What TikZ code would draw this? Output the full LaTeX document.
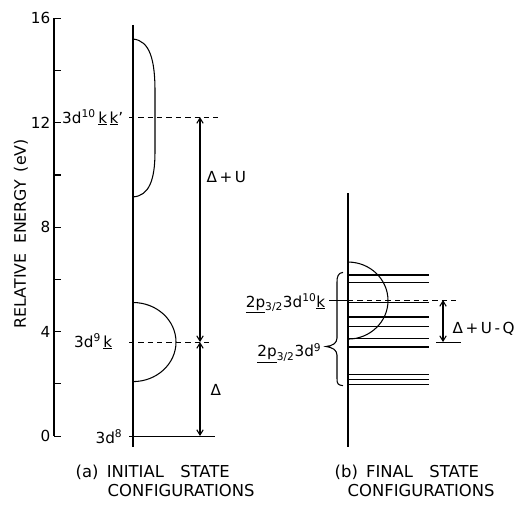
\documentclass[tikz,border=0pt]{standalone}
\usepackage{fontspec}
\setmainfont{DejaVu Sans}
\usetikzlibrary{arrows.meta}

\tikzset{
  lbl/.style={font=\fontsize{13}{15}\selectfont, inner sep=1pt},
  captxt/.style={font=\fontsize{14}{16}\selectfont, inner sep=1pt},
  dashline/.style={dash pattern=on 4.5pt off 3.5pt},
  dimarrow/.style={{Straight Barb[length=4.5pt,width=5.5pt]}-{Straight Barb[length=4.5pt,width=5.5pt]}},
}

\begin{document}
\begin{tikzpicture}[x=0.03cm, y=0.783cm, line width=0.9pt]
    \useasboundingbox (0,-2.835) rectangle (517,16.705);
    % energy axis
    \draw (54,0) coordinate (ax0) -- (54,16) coordinate (ax16);
    \foreach \e in {0,2,...,16}
        \draw (ax0 |- 0,\e) -- ++(7,0);
    \foreach \e in {0,4,8,12,16}
        \node[lbl, anchor=east] (t\e) at (52,\e) {\e};
    \node[captxt, rotate=90, font=\fontsize{13.5}{16}\selectfont] (ylab) at (21,7.75) {RELATIVE\hspace{.6em}ENERGY\hspace{.5em}(eV)};

    % (a) initial state configurations
    \coordinate (aTop) at (133,15.75);
    \coordinate (aBot) at (133,-0.42);
    \draw (aTop) -- (aBot);
    % band of 3d10 k k'
    \draw (133,15.21) .. controls (150,15.15) and (155,14.4) .. (155,13.2)
        -- (155,10.9) .. controls (155,9.8) and (149,9.2) .. (133,9.16);
    % band of 3d9 k
    \draw (133,5.115) arc[start angle=90, end angle=-90, x radius=43, y radius=1.515];
    \coordinate (d10L) at (129,12.22);
    \coordinate (d10R) at (218,12.22);
    \coordinate (d9L)  at (129,3.6);
    \coordinate (d9R)  at (210,3.6);
    \coordinate (d8L)  at (129,0);
    \coordinate (d8R)  at (215,0);
    \draw[dashline] (d10L) -- (d10R);
    \draw[dashline] (d9L) -- (d9R);
    \draw (d8L) -- (d8R);
    \node[lbl, anchor=base east] (s10) at (125,11.99) {3d\textsuperscript{10}\,\underline{k}\,\underline{k}'};
    \node[lbl, anchor=base east] (s9)  at (114,3.41) {3d\textsuperscript{9}\,\underline{k}};
    \node[lbl, anchor=base east] (s8)  at (124,-0.27) {3d\textsuperscript{8}};
    % gaps
    \coordinate (u0) at (200,0);
    \coordinate (u1) at (200,3.6);
    \coordinate (u2) at (200,12.22);
    \draw[dimarrow] (u1) -- (u2);
    \draw[dimarrow] (u0) -- (u1);
    \node[lbl, anchor=west] (dU) at (205,9.93) {Δ\,+\,U};
    \node[lbl, anchor=west] (dd) at (209,1.76) {Δ};

    % (b) final state configurations
    \coordinate (bTop) at (348,9.31);
    \coordinate (bBot) at (348,-0.42);
    \draw (bTop) -- (bBot);
    \draw (348,6.665) arc[start angle=90, end angle=-90, x radius=40, y radius=1.475];
    \foreach \e in {6.17,5.90,5.10,4.56,4.21,3.75,3.41,2.34,2.15,1.99}
        \draw (348,\e) -- (429,\e);
    \coordinate (p10L) at (329,5.21);
    \coordinate (p10M) at (348,5.21);
    \coordinate (p10R) at (458,5.21);
    \draw (p10L) -- (p10M);
    \draw[dashline] (p10M) -- (p10R);
    \coordinate (qL) at (436,3.6);
    \coordinate (qR) at (461,3.6);
    \draw (qL) -- (qR);
    \draw[dimarrow] (443,5.21) coordinate (q1) -- (443,3.6) coordinate (q0);
    \node[lbl, anchor=west] (dUQ) at (451,4.10) {Δ\,+\,U\,-\,Q};
    % brace over the 2p3/2 levels
    \draw (343,6.27) .. controls (338,6.25) and (337,6.1) .. (337,5.9)
        -- (337,3.75) .. controls (337,3.55) and (332,3.45) .. (326,3.43)
        .. controls (332,3.4) and (337,3.3) .. (337,3.1)
        -- (337,2.2) .. controls (337,2.0) and (338,1.95) .. (343,1.93);
    \node[lbl, anchor=base east] (f10) at (327,4.94) {\underline{2p}\textsubscript{3/2}3d\textsuperscript{10}\underline{k}};
    \node[lbl, anchor=base east] (f9)  at (323,3.03) {\underline{2p}\textsubscript{3/2}3d\textsuperscript{9}};

    % captions
    \node[captxt, anchor=west] (capA1) at (74,-1.38) {(a)\hspace{.5em}INITIAL\hspace{1em}STATE};
    \node[captxt, anchor=west] (capA2) at (106,-2.07) {CONFIGURATIONS};
    \node[captxt, anchor=west] (capB1) at (333,-1.38) {(b)\hspace{.5em}FINAL\hspace{1em}STATE};
    \node[captxt, anchor=west] (capB2) at (346,-2.07) {CONFIGURATIONS};
\end{tikzpicture}
\end{document}
